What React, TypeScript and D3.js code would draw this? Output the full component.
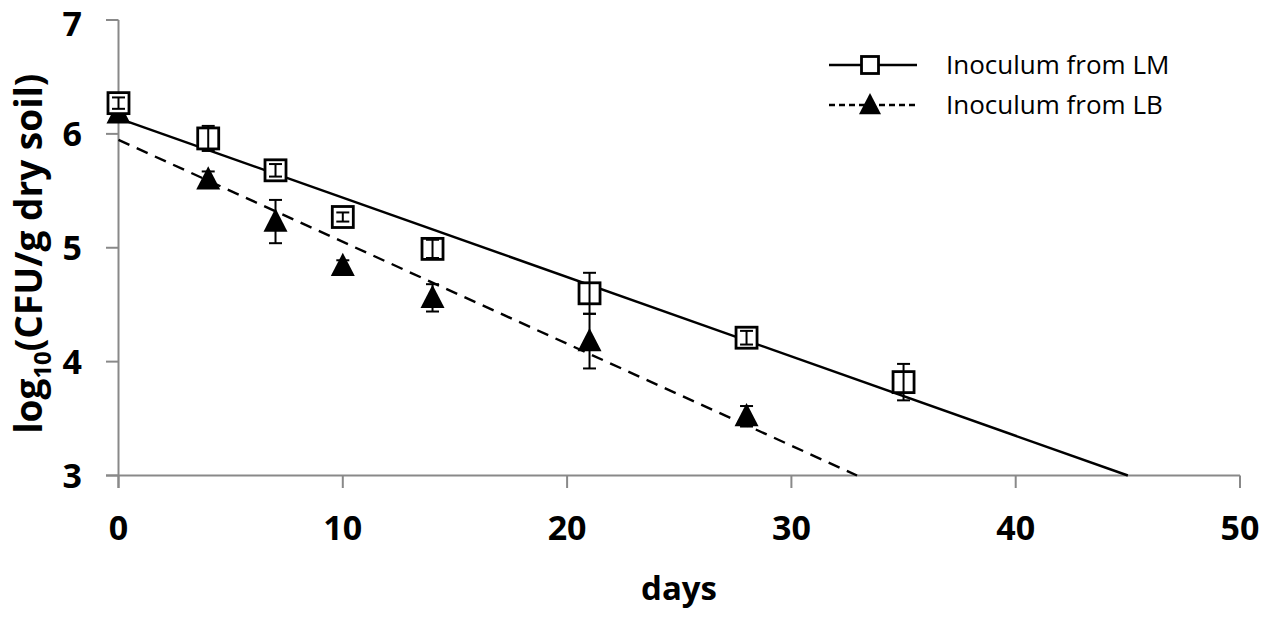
import React from 'react';
import * as d3 from 'd3';

// sampling days and log10 CFU readings
const daysLM = [0, 4, 7, 10, 14, 21, 28, 35];
const valuesLM = [6.27, 5.96, 5.68, 5.27, 4.99, 4.6, 4.21, 3.82];
const errorsLM = [0.05, 0.11, 0.055, 0.04, 0.08, 0.18, 0.06, 0.16];

const daysLB = [0, 4, 7, 10, 14, 21, 28];
const valuesLB = [6.18, 5.6, 5.23, 4.84, 4.56, 4.18, 3.52];
const errorsLB = [0.05, 0.07, 0.19, 0.05, 0.12, 0.24, 0.09];

const xTicks = [0, 10, 20, 30, 40, 50];
const yTicks = [3, 4, 5, 6, 7];
const legendLabels = ['Inoculum from LM', 'Inoculum from LB'];

const W = 1267;
const H = 618;
const FONT = "'Open Sans', Lato, sans-serif";
const AXIS = '#898989';

// least squares trend line
const fit = (xs: number[], ys: number[]) => {
  const mx: any = d3.mean(xs);
  const my: any = d3.mean(ys);
  const sxy = d3.sum(xs, (x, i) => (x - mx) * (ys[i] - my));
  const sxx = d3.sum(xs, (x) => (x - mx) * (x - mx));
  const slope = sxy / sxx;
  return { slope, intercept: my - slope * mx };
};

const Square = ({ x, y, s }: any) => (
  <rect x={x - s / 2} y={y - s / 2} width={s} height={s} fill="white" stroke="black" strokeWidth={2.8} />
);

const Triangle = ({ x, y, s }: any) => (
  <path d={`M${x},${y - s * 0.55} L${x + s / 2},${y + s * 0.42} L${x - s / 2},${y + s * 0.42} Z`} fill="black" />
);

const App = () => {
  const x = d3.scaleLinear().domain([0, 50]).range([118.5, 1240]);
  const y = d3.scaleLinear().domain([3, 7]).range([475.5, 20]);

  const trend = (xs: number[], ys: number[]) => {
    const { slope, intercept } = fit(xs, ys);
    const xEnd = (3 - intercept) / slope;
    return d3.line()([
      [x(0), y(intercept)],
      [x(xEnd), y(3)]
    ]) as string;
  };

  const errBars = (xs: number[], ys: number[], es: number[]) =>
    xs.map((d, i) => {
      const cx = x(d);
      const top = y(ys[i] + es[i]);
      const bot = y(ys[i] - es[i]);
      return (
        <g key={i} stroke="black" strokeWidth={2}>
          <line x1={cx} x2={cx} y1={top} y2={bot} />
          <line x1={cx - 6.5} x2={cx + 6.5} y1={top} y2={top} />
          <line x1={cx - 6.5} x2={cx + 6.5} y1={bot} y2={bot} />
        </g>
      );
    });

  return (
    <svg width={W} height={H} style={{ position: 'absolute', left: 0, top: 0, background: 'white' }}>
      {/* axes */}
      <line x1={106} x2={1240} y1={y(3)} y2={y(3)} stroke={AXIS} strokeWidth={2} />
      <line x1={x(0)} x2={x(0)} y1={y(7)} y2={488} stroke={AXIS} strokeWidth={2} />
      {xTicks.map((t) => (
        <g key={t}>
          <line x1={x(t)} x2={x(t)} y1={y(3)} y2={488} stroke={AXIS} strokeWidth={2} />
          <text x={x(t)} y={540} textAnchor="middle" fontFamily={FONT} fontWeight="bold" fontSize={34}>
            {t}
          </text>
        </g>
      ))}
      {yTicks.map((t) => (
        <g key={t}>
          <line x1={106} x2={x(0)} y1={y(t)} y2={y(t)} stroke={AXIS} strokeWidth={2} />
          <text
            x={82}
            y={Math.max(y(t) + 12, 36)}
            textAnchor="end"
            fontFamily={FONT}
            fontWeight="bold"
            fontSize={34}
          >
            {t}
          </text>
        </g>
      ))}
      <text x={679} y={600} textAnchor="middle" fontFamily={FONT} fontWeight="bold" fontSize={33}>
        days
      </text>
      <text
        transform={`translate(42,${y(5) + 6}) rotate(-90)`}
        textAnchor="middle"
        fontFamily={FONT}
        fontWeight="bold"
        fontSize={37}
      >
        log<tspan fontSize={24} dy={9}>10</tspan>
        <tspan dy={-9}>(CFU/g dry soil)</tspan>
      </text>

      {/* trend lines */}
      <path d={trend(daysLM, valuesLM)} fill="none" stroke="black" strokeWidth={2.4} />
      <path d={trend(daysLB, valuesLB)} fill="none" stroke="black" strokeWidth={2.4} strokeDasharray="12,8" />

      {/* LB series */}
      {errBars(daysLB, valuesLB, errorsLB)}
      {daysLB.map((d, i) => (
        <Triangle key={i} x={x(d)} y={y(valuesLB[i])} s={24} />
      ))}

      {/* LM series */}
      {daysLM.map((d, i) => (
        <Square key={i} x={x(d)} y={y(valuesLM[i])} s={21} />
      ))}
      {errBars(daysLM, valuesLM, errorsLM)}

      {/* legend */}
      <g fontFamily={FONT} fontSize={26}>
        <line x1={829} x2={917} y1={65} y2={65} stroke="black" strokeWidth={2.4} />
        <Square x={870} y={65} s={17} />
        <text x={946} y={74}>{legendLabels[0]}</text>
        <line x1={829} x2={917} y1={105} y2={105} stroke="black" strokeWidth={2.4} strokeDasharray="6,4" />
        <Triangle x={870} y={105} s={22} />
        <text x={946} y={114}>{legendLabels[1]}</text>
      </g>
    </svg>
  );
};

export default App;
